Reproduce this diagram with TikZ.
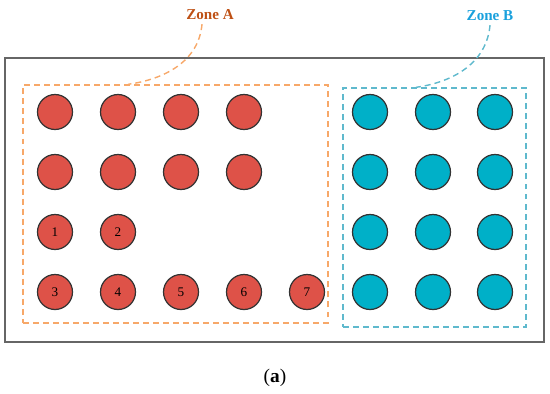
\documentclass[tikz,border=0pt]{standalone}
\usepackage{fontspec}
\setmainfont{Liberation Serif}
\usetikzlibrary{calc}
\definecolor{dotred}{RGB}{222,82,72}
\definecolor{dotcyan}{RGB}{0,176,200}
\definecolor{zoneorange}{RGB}{247,168,105}
\definecolor{zoneteal}{RGB}{95,185,205}
\definecolor{labelbrown}{RGB}{190,80,20}
\definecolor{labelblue}{RGB}{25,160,220}
\tikzset{
  dotR/.style={circle, draw=black!80, fill=dotred, line width=0.7pt,
               minimum size=0.7cm, inner sep=0pt, font=\fontsize{7.5}{8}\selectfont},
  dotB/.style={circle, draw=black!80, fill=dotcyan, line width=0.7pt,
               minimum size=0.7cm, inner sep=0pt},
  zonebox/.style={draw=#1, line width=0.8pt, dash pattern=on 3.4pt off 2.3pt,
                  inner sep=0pt},
  zonelink/.style={draw=#1, line width=0.8pt, dash pattern=on 3.4pt off 2.3pt},
  zonelabel/.style={text=#1, font=\fontsize{8.6}{10}\selectfont\bfseries, inner sep=1pt},
}

\begin{document}
\begin{tikzpicture}[x=0.02cm, y=-0.02cm]
    \useasboundingbox (0,0) rectangle (550,393);

    % frame and zones
    \node[draw=black!60, line width=0.8pt, minimum width=10.78cm, minimum height=5.68cm,
          inner sep=0pt] (frame) at (274.5,200) {};
    \node[zonebox=zoneorange, minimum width=6.1cm,  minimum height=4.76cm] (zA) at (175.5,204) {};
    \node[zonebox=zoneteal,   minimum width=3.66cm, minimum height=4.78cm] (zB) at (434.5,207.5) {};

    % zone A: unlabelled rows
    \foreach \c/\x in {1/55, 2/118, 3/181, 4/244} {
      \node[dotR] (a1\c) at (\x,112) {};
      \node[dotR] (a2\c) at (\x,172) {};
    }
    % zone A: numbered
    \node[dotR] (n1) at (55,232)  {1};
    \node[dotR] (n2) at (118,232) {2};
    \node[dotR] (n3) at (55,292)  {3};
    \node[dotR] (n4) at (118,292) {4};
    \node[dotR] (n5) at (181,292) {5};
    \node[dotR] (n6) at (244,292) {6};
    \node[dotR] (n7) at (307,292) {7};

    % zone B
    \foreach \r/\y in {1/112, 2/172, 3/232, 4/292}
      \foreach \c/\x in {1/370, 2/433, 3/495}
        \node[dotB] (b\r\c) at (\x,\y) {};

    % labels
    \node[zonelabel=labelbrown] (labA) at (210,15) {Zone A};
    \node[zonelabel=labelblue]  (labB) at (490,16) {Zone B};
    \coordinate (tipA) at ($(zA.north west)!0.345!(zA.north east)$);
    \coordinate (tipB) at ($(zB.north west)!0.4!(zB.north east)$);
    \draw[zonelink=zoneorange] (labA.south) ++(-8,2) to[out=-95, in=8] (tipA);
    \draw[zonelink=zoneteal]   (labB.south) ++(0,2)  to[out=-95, in=8] (tipB);

    \node[font=\fontsize{11}{13}\selectfont] (cap) at (275,378) {(\textbf{a})};
  \end{tikzpicture}
\end{document}
